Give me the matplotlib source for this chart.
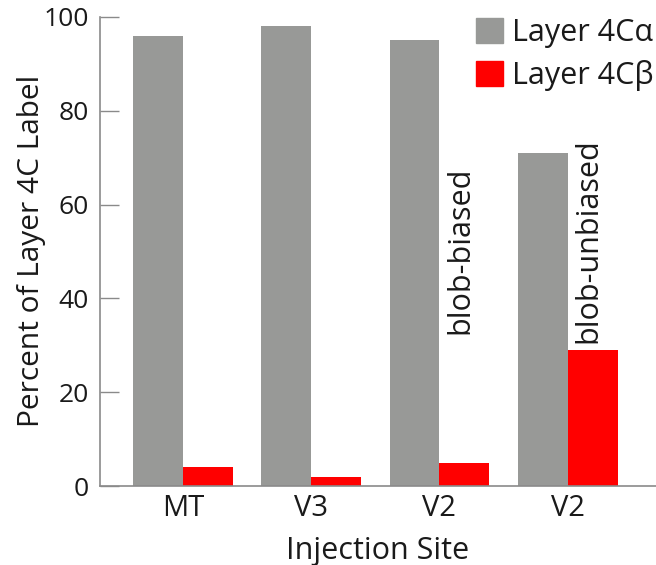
import matplotlib
matplotlib.use("Agg")
import matplotlib.pyplot as plt
import numpy as np
from matplotlib.patches import Patch

plt.rcParams["font.family"] = ["Open Sans", "DejaVu Sans"]
for key in ["text.color", "axes.labelcolor", "xtick.labelcolor", "ytick.labelcolor"]:
    plt.rcParams[key] = "#1a1a1a"

sites = ["MT", "V3", "V2", "V2"]
layer_4c_alpha = [96, 98, 95, 71]
layer_4c_beta = [4, 2, 5, 29]
# rotated notes: (bar index, text, base value)
notes = [(2, "blob-biased", 32.5), (3, "blob-unbiased", 30.5)]

GRAY = "#989997"
RED = "#ff0000"
AXIS = "#8a8a8a"

fig = plt.figure(figsize=(6.56, 5.65), dpi=100)
ax = fig.add_axes([100 / 656, 1 - 486 / 565, 556 / 656, 469 / 565])

x = np.arange(len(sites))
w = 0.39
ax.bar(x - w / 2, layer_4c_alpha, width=w, color=GRAY)
ax.bar(x + w / 2, layer_4c_beta, width=w, color=RED)

for i, txt, base in notes:
    ax.text(i + 0.165, base, txt, rotation=90,
            ha="center", va="bottom", fontsize=22)

ax.set_xlim(-0.65, 3.69)
ax.set_ylim(0, 100)
ax.set_yticks([0, 20, 40, 60, 80, 100])
ax.set_xticks(x)
ax.set_xticklabels(sites)
ax.tick_params(axis="y", direction="in", length=14, width=1, color=AXIS,
               labelsize=19, pad=8)
ax.tick_params(axis="x", length=0, labelsize=21, pad=6)
for s in ["top", "right"]:
    ax.spines[s].set_visible(False)
for s in ["left", "bottom"]:
    ax.spines[s].set_color(AXIS)
    ax.spines[s].set_linewidth(1.2)

ax.set_xlabel("Injection Site", fontsize=22, labelpad=9)
ax.set_ylabel("Percent of Layer 4C Label", fontsize=21.5)
ax.yaxis.set_label_coords(-0.098, 0.502)

handles = [Patch(color=GRAY), Patch(color=RED)]
fig.legend(handles, ["Layer 4C\u03b1", "Layer 4C\u03b2"], loc="upper right",
           bbox_to_anchor=(1.0 + 4 / 656, 1.0 - 12 / 565), frameon=False, fontsize=22,
           borderpad=0.2, borderaxespad=0,
           handlelength=0.9, handleheight=0.9, handletextpad=0.3, labelspacing=0.38)

fig.savefig("out.png", dpi=100)
